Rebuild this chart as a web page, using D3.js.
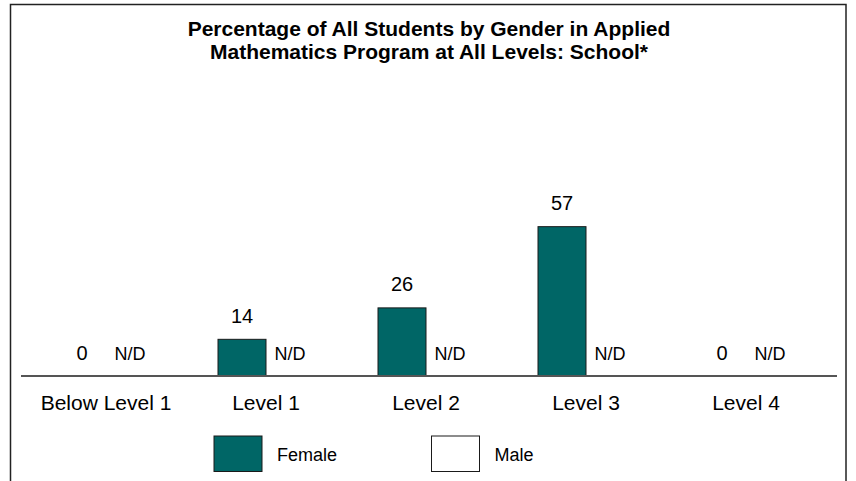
<!DOCTYPE html>
<html>
<head>
<meta charset="utf-8">
<script src="https://cdn.jsdelivr.net/npm/d3@7"></script>
<style>
  body { margin: 0; background: #fff; }
  text { font-family: Arial, "Liberation Sans", sans-serif; fill: #000; }
</style>
</head>
<body>
<script>
// chart data
var categories = ["Below Level 1", "Level 1", "Level 2", "Level 3", "Level 4"];
var series = ["Female", "Male"];
var female = [0, 14, 26, 57, 0];
var male = [null, null, null, null, null];   // N/D
var titleLines = ["Percentage of All Students by Gender in Applied",
                  "Mathematics Program at All Levels: School*"];

var width = 856, height = 481;
var baseY = 376;

var svg = d3.select("body").append("svg")
    .attr("width", width)
    .attr("height", height);

// outer frame (bottom runs off the picture)
svg.append("rect")
    .attr("x", 10.5).attr("y", 4.5)
    .attr("width", 835.5).attr("height", 500)
    .attr("fill", "none")
    .attr("stroke", "#222")
    .attr("stroke-width", 1.5);

// title
svg.append("g").selectAll("text")
    .data(titleLines)
    .enter().append("text")
    .attr("x", 429)
    .attr("y", function(d, i) { return 36 + i * 22.5; })
    .attr("text-anchor", "middle")
    .style("font-size", "21px")
    .style("font-weight", "bold")
    .text(function(d) { return d; });

// scales
var x0 = d3.scaleBand().domain(categories).range([26, 826]).paddingInner(0).paddingOuter(0);
var x1 = d3.scaleBand().domain(series).range([x0.bandwidth() / 2 - 48, x0.bandwidth() / 2 + 48]);
var y = d3.scaleLinear().domain([0, 100]).range([baseY, baseY - 262]);

var rows = categories.map(function(c, i) {
    return {cat: c, values: [{s: "Female", v: female[i]}, {s: "Male", v: male[i]}]};
});

var groups = svg.append("g").selectAll("g")
    .data(rows)
    .enter().append("g")
    .attr("transform", function(d) { return "translate(" + x0(d.cat) + ",0)"; });

groups.selectAll("rect")
    .data(function(d) { return d.values.filter(function(e) { return e.v; }); })
    .enter().append("rect")
    .attr("x", function(d) { return x1(d.s); })
    .attr("width", x1.bandwidth())
    .attr("y", function(d) { return y(d.v); })
    .attr("height", function(d) { return y(0) - y(d.v); })
    .attr("fill", function(d) { return d.s == "Female" ? "#006666" : "#fff"; })
    .attr("stroke", "#1a1a1a")
    .attr("stroke-width", 1);

groups.selectAll("text.val")
    .data(function(d) { return d.values; })
    .enter().append("text")
    .attr("class", "val")
    .attr("x", function(d) { return x1(d.s) + x1.bandwidth() / 2; })
    .attr("y", function(d) { return y(d.v || 0) - 16.5; })
    .attr("text-anchor", "middle")
    .style("font-size", function(d) { return d.v == null ? "18px" : "20px"; })
    .text(function(d) { return d.v == null ? "N/D" : d.v; });

// category axis
svg.append("line")
    .attr("x1", 21).attr("x2", 837)
    .attr("y1", baseY).attr("y2", baseY)
    .attr("stroke", "#555")
    .attr("stroke-width", 2);

svg.append("g").selectAll("text")
    .data(categories)
    .enter().append("text")
    .attr("x", function(d) { return x0(d) + x0.bandwidth() / 2; })
    .attr("y", 410)
    .attr("text-anchor", "middle")
    .style("font-size", "21px")
    .text(function(d) { return d; });

// legend
var legend = svg.append("g").selectAll("g")
    .data(series)
    .enter().append("g")
    .attr("transform", function(d, i) { return "translate(" + (214 + i * 217.5) + ",436)"; });

legend.append("rect")
    .attr("width", 48).attr("height", 35.5)
    .attr("fill", function(d) { return d == "Female" ? "#006666" : "#fff"; })
    .attr("stroke", "#1a1a1a")
    .attr("stroke-width", 1);

legend.append("text")
    .attr("x", 63)
    .attr("y", 25)
    .style("font-size", "18px")
    .text(function(d) { return d; });
</script>
</body>
</html>
